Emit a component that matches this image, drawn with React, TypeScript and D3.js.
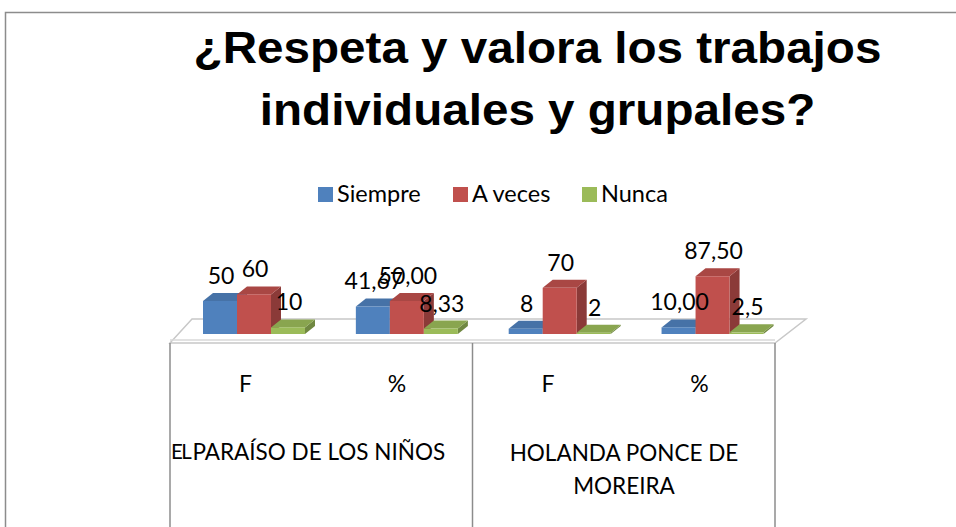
import * as d3 from 'd3';

const categories = ['F', '%', 'F', '%'];
const groupLabels = ['PARAÍSO DE LOS NIÑOS', 'HOLANDA PONCE DE MOREIRA'];
const seriesNames = ['Siempre', 'A veces', 'Nunca'];
const siempre = [50, 41.67, 8, 10];
const aVeces = [60, 50, 70, 87.5];
const nunca = [10, 8.33, 2, 2.5];
const siempreLabels = ['50', '41,67', '8', '10,00'];
const aVecesLabels = ['60', '50,00', '70', '87,50'];
const nuncaLabels = ['10', '8,33', '2', '2,5'];

const colors = ['#4F81BD', '#C0504D', '#9BBB59'];
const W = 956;
const H = 527;
const FONT = 'Lato, "Open Sans", sans-serif';

export default function App() {
  const series = [
    { name: seriesNames[0], values: siempre, labels: siempreLabels, color: colors[0] },
    { name: seriesNames[1], values: aVeces, labels: aVecesLabels, color: colors[1] },
    { name: seriesNames[2], values: nunca, labels: nuncaLabels, color: colors[2] },
  ];

  // plot area (table columns)
  const left = 170, right = 775;
  const floorFront = 343, floorBack = 319;
  const base = 334;
  const dx = 10, dy = -8;

  const x = d3.scaleBand<number>().domain(d3.range(categories.length)).range([left, right]);
  const inner = d3.scaleBand<number>().domain(d3.range(series.length)).range([0, 102]);
  const y = d3.scaleLinear().domain([0, 100]).range([base, base - 66]);

  const groupStart = (i: number) => (x(i) as number) + 33 + i * 1.6;

  const floor = [
    [left, floorFront], [right, floorFront], [806, floorBack], [192, floorBack],
  ];

  const legendItems = [
    { x: 318, label: seriesNames[0] },
    { x: 453, label: seriesNames[1] },
    { x: 582, label: seriesNames[2] },
  ];

  return (
    <svg width={W} height={H} style={{ position: 'absolute', left: 0, top: 0, background: '#fff' }}>
      <rect x={5.5} y={12.5} width={W} height={H} fill="#fff" stroke="#8c8c8c" strokeWidth={1.5} />

      {/* title (stretched horizontally like the source) */}
      <g transform="translate(537.5,0) scale(1.082,1)">
        <text textAnchor="middle" fontFamily="'Liberation Sans', Arial, sans-serif"
          fontWeight="bold" fontSize={44} fill="#000">
          <tspan x={0} y={63}>¿Respeta y valora los trabajos</tspan>
          <tspan x={0} y={125}>individuales y grupales?</tspan>
        </text>
      </g>

      {/* legend */}
      {legendItems.map((d, i) => (
        <g key={d.label}>
          <rect x={d.x} y={187} width={15} height={15} fill={colors[i]} />
          <text x={d.x + 19} y={202} fontFamily={FONT} fontSize={23.5} fill="#000">{d.label}</text>
        </g>
      ))}

      {/* floor */}
      <polygon points={floor.map(p => p.join(',')).join(' ')} fill="#fff" stroke="#c8c8c8" strokeWidth={1.5} />
      <line x1={left} x2={right} y1={floorFront - 3} y2={floorFront - 3} stroke="#d9d9d9" strokeWidth={1.5} />

      {/* bars */}
      {categories.map((c, i) => (
        <g key={i}>
          {series.map((s, j) => {
            const bx = groupStart(i) + (inner(j) as number);
            const bw = inner.bandwidth();
            const yt = y(s.values[i]);
            const top = d3.color(s.color)!.darker(0.35).toString();
            const side = d3.color(s.color)!.darker(0.9).toString();
            return (
              <g key={j}>
                <polygon points={`${bx + bw},${yt} ${bx + bw + dx},${yt + dy} ${bx + bw + dx},${base + dy} ${bx + bw},${base}`} fill={side} />
                <polygon points={`${bx},${yt} ${bx + dx},${yt + dy} ${bx + bw + dx},${yt + dy} ${bx + bw},${yt}`} fill={top} />
                <rect x={bx} y={yt} width={bw} height={base - yt} fill={s.color} />
              </g>
            );
          })}
        </g>
      ))}

      {/* data labels */}
      {categories.map((c, i) => (
        <g key={i}>
          {series.map((s, j) => {
            const bx = groupStart(i) + (inner(j) as number) + inner.bandwidth() / 2;
            return (
              <text key={j} x={bx + 1} y={y(s.values[i]) + dy - 9} textAnchor="middle"
                fontFamily={FONT} fontSize={23} fill="#000">{s.labels[i]}</text>
            );
          })}
        </g>
      ))}

      {/* table under chart */}
      {[left, (left + right) / 2, right].map((lx, i) => (
        <line key={i} x1={lx} x2={lx} y1={floorFront} y2={H} stroke="#8c8c8c" strokeWidth={1.5} />
      ))}
      {categories.map((c, i) => (
        <text key={i} x={(x(i) as number) + x.bandwidth() / 2} y={392} textAnchor="middle"
          fontFamily={FONT} fontSize={23} fill="#000">{c}</text>
      ))}
      <text x={171} y={459} fontFamily={FONT} fill="#000">
        <tspan fontSize={20.5} letterSpacing={-1.5}>EL</tspan>
        <tspan fontSize={22.5} dx={2} dy={1}>{groupLabels[0]}</tspan>
      </text>
      <text textAnchor="middle" fontFamily={FONT} fontSize={22.5} fill="#000">
        <tspan x={624} y={461}>HOLANDA PONCE DE</tspan>
        <tspan x={624} y={494}>MOREIRA</tspan>
      </text>
    </svg>
  );
}
